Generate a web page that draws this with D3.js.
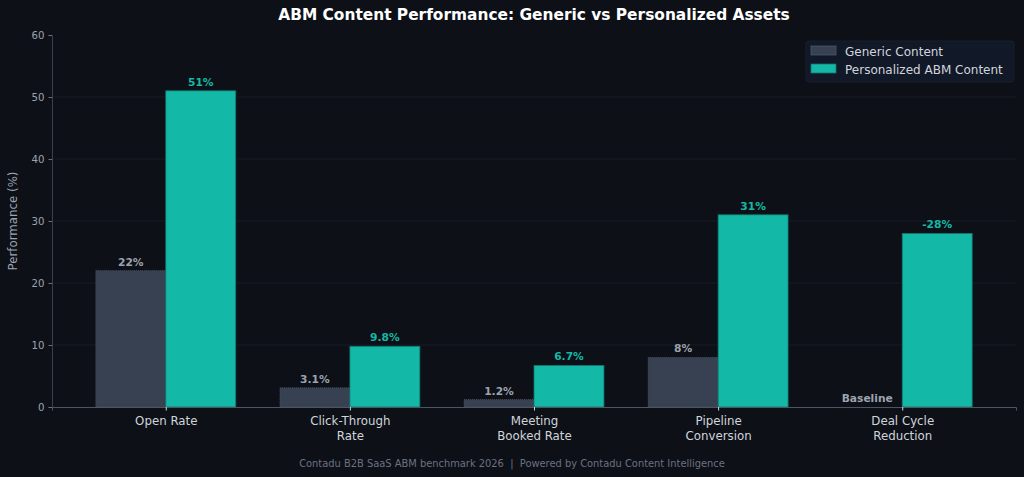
<!DOCTYPE html>
<html>
<head>
<meta charset="utf-8">
<script src="https://cdn.jsdelivr.net/npm/d3@7"></script>
<style>
  body { margin: 0; background: #0d1017; }
  svg { display: block; font-family: "DejaVu Sans", sans-serif; }
</style>
</head>
<body>
<div id="viz"></div>
<script>
var categories = ["Open Rate", "Click-Through\nRate", "Meeting\nBooked Rate", "Pipeline\nConversion", "Deal Cycle\nReduction"];
var genericValues = [22, 3.1, 1.2, 8, 0];
var personalizedValues = [51, 9.8, 6.7, 31, 28];
var genericLabels = ["22%", "3.1%", "1.2%", "8%", "Baseline"];
var personalizedLabels = ["51%", "9.8%", "6.7%", "31%", "-28%"];
var yTicks = [0, 10, 20, 30, 40, 50, 60];

var W = 1024, H = 477;
var m = { left: 52, right: 8, top: 35, bottom: 70 };

var svg = d3.select("#viz").append("svg")
    .attr("width", W)
    .attr("height", H);

svg.append("rect").attr("width", W).attr("height", H).attr("fill", "#0d1017");

// x: category index, with matplotlib-like margins
var bw = 0.38;
var x = d3.scaleLinear()
    .domain([-bw - 0.238, categories.length - 1 + bw + 0.238])
    .range([m.left, W - m.right]);
var y = d3.scaleLinear().domain([0, 60]).range([H - m.bottom, m.top]);

// grid
svg.append("g").selectAll("line").data(yTicks.filter(function(d) { return d > 0 && d < 60; }))
  .enter().append("line")
    .attr("x1", m.left).attr("x2", W - m.right)
    .attr("y1", function(d) { return y(d); }).attr("y2", function(d) { return y(d); })
    .attr("stroke", "#1a1f29").attr("stroke-width", 0.8);

// bars
var g = svg.append("g");
g.selectAll(".gen").data(genericValues).enter().append("rect")
    .attr("x", function(d, i) { return x(i - bw); })
    .attr("width", x(bw) - x(0))
    .attr("y", function(d) { return y(d); })
    .attr("height", function(d) { return y(0) - y(d); })
    .attr("fill", "#374151")
    .attr("stroke", "#4b5563").attr("stroke-width", 0.8).attr("stroke-dasharray", "1,1");

g.selectAll(".per").data(personalizedValues).enter().append("rect")
    .attr("x", function(d, i) { return x(i); })
    .attr("width", x(bw) - x(0))
    .attr("y", function(d) { return y(d); })
    .attr("height", function(d) { return y(0) - y(d); })
    .attr("fill", "#14b8a6")
    .attr("stroke", "#0f766e").attr("stroke-width", 0.8);

// value labels
g.selectAll(".genl").data(genericValues).enter().append("text")
    .attr("x", function(d, i) { return x(i - bw / 2); })
    .attr("y", function(d) { return y(d) - 5; })
    .attr("text-anchor", "middle")
    .attr("font-size", 10.7).attr("font-weight", "bold")
    .attr("fill", "#9ca3af")
    .text(function(d, i) { return genericLabels[i]; });

g.selectAll(".perl").data(personalizedValues).enter().append("text")
    .attr("x", function(d, i) { return x(i + bw / 2); })
    .attr("y", function(d) { return y(d) - 5; })
    .attr("text-anchor", "middle")
    .attr("font-size", 10.7).attr("font-weight", "bold")
    .attr("fill", "#14b8a6")
    .text(function(d, i) { return personalizedLabels[i]; });

// y axis
var yAxis = svg.append("g")
    .attr("transform", "translate(" + m.left + ",0)")
    .call(d3.axisLeft(y).tickValues(yTicks).tickSize(3.5).tickPadding(4));
yAxis.select(".domain").attr("stroke", "#374151");
yAxis.selectAll(".tick line").attr("stroke", "#6b7280");
yAxis.selectAll("text").attr("fill", "#9ca3af").attr("font-size", 10.2).attr("font-family", "DejaVu Sans");

// x axis
var xAxis = svg.append("g")
    .attr("transform", "translate(0," + y(0) + ")")
    .call(d3.axisBottom(x).tickValues(d3.range(categories.length)).tickSize(3.5).tickFormat(""));
xAxis.select(".domain").attr("stroke", "#4b5563");
xAxis.selectAll(".tick line").attr("stroke", "#d1d5db");

xAxis.selectAll(".tick").each(function(d) {
  var lines = categories[d].split("\n");
  var t = d3.select(this).append("text")
      .attr("text-anchor", "middle")
      .attr("fill", "#d1d5db")
      .attr("font-size", 11.8)
      .attr("font-family", "DejaVu Sans");
  lines.forEach(function(s, k) {
    t.append("tspan").attr("x", 0).attr("y", 18 + k * 14.5).text(s);
  });
});

// y label
svg.append("text")
    .attr("transform", "translate(17," + (y(30)) + ") rotate(-90)")
    .attr("text-anchor", "middle")
    .attr("fill", "#9ca3af").attr("font-size", 11.8)
    .text("Performance (%)");

// title
svg.append("text")
    .attr("x", (m.left + W - m.right) / 2).attr("y", 20)
    .attr("text-anchor", "middle")
    .attr("fill", "#ffffff").attr("font-size", 15.4).attr("font-weight", "bold")
    .text("ABM Content Performance: Generic vs Personalized Assets");

// legend
var lg = svg.append("g").attr("transform", "translate(806,41)");
lg.append("rect").attr("width", 208).attr("height", 41).attr("rx", 3)
    .attr("fill", "#111827").attr("stroke", "#1f2937").attr("stroke-width", 0.6);
var legendItems = [
  { name: "Generic Content", fill: "#374151", stroke: "#4b5563" },
  { name: "Personalized ABM Content", fill: "#14b8a6", stroke: "#0f766e" }
];
legendItems.forEach(function(it, i) {
  lg.append("rect").attr("x", 5).attr("y", 5 + i * 18).attr("width", 25).attr("height", 9)
      .attr("fill", it.fill).attr("stroke", it.stroke).attr("stroke-width", 0.8);
  lg.append("text").attr("x", 39).attr("y", 14.5 + i * 18)
      .attr("fill", "#d1d5db").attr("font-size", 12)
      .text(it.name);
});

// footer
svg.append("text")
    .attr("x", 512).attr("y", 467)
    .attr("text-anchor", "middle")
    .style("white-space", "pre")
    .attr("fill", "#6b7280").attr("font-size", 9.9)
    .text("Contadu B2B SaaS ABM benchmark 2026  |  Powered by Contadu Content Intelligence");
</script>
</body>
</html>
